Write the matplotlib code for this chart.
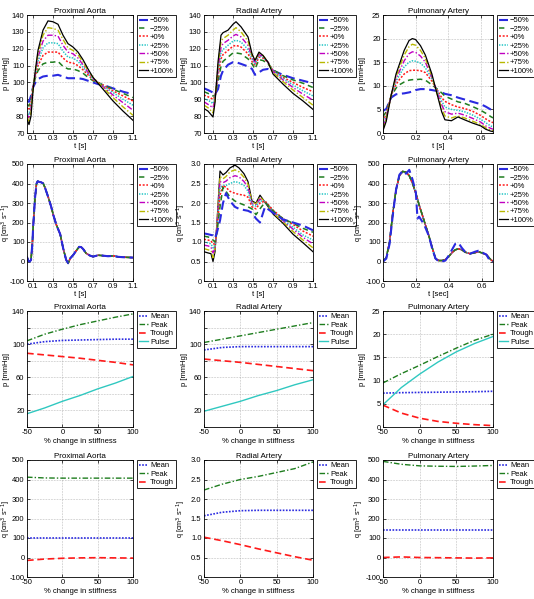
import matplotlib
matplotlib.use('Agg')
import matplotlib.pyplot as plt

plt.rcParams['font.family'] = ['Liberation Sans', 'DejaVu Sans']
plt.rcParams['axes.unicode_minus'] = False
FS = 5.5

# ---------------- data ----------------
series_labels = ['−50%', '−25%', '+0%', '+25%', '+50%', '+75%', '+100%']
stiff = [-50, -25, 0, 25, 50, 75, 100]

# Row 1: pressure waveforms
t_pa = [0.04, 0.06, 0.08, 0.1, 0.125, 0.15, 0.2, 0.25, 0.3, 0.35, 0.4, 0.45, 0.5, 0.55, 0.6, 0.65, 0.7, 0.75, 0.8, 0.9, 1.0, 1.1]
p_aorta = [
    [89, 88.5, 92, 97, 100, 102, 103.5, 104, 104, 104.5, 103.5, 102.5, 102.5, 102.5, 102, 101, 100, 99, 98.5, 96.5, 94.5, 93],
    [87, 86, 90, 97.5, 103, 107, 111, 112, 112, 112.5, 109.5, 108, 108, 107, 105.5, 103, 101, 100, 98.5, 96, 93.5, 91],
    [85, 83.5, 88, 97.5, 104, 110, 116, 118, 118, 118, 114.5, 112, 111.5, 110, 107.5, 104.5, 101.5, 100, 98.5, 95, 92, 89],
    [83, 81, 86, 97, 105, 112.5, 120.5, 123.5, 123.5, 123, 118.5, 115, 114.5, 112.5, 109, 105.5, 102, 100, 98, 94, 90, 86.5],
    [81, 79, 84, 96.5, 106, 115, 124.5, 128, 128, 127.5, 122, 118, 117, 114.5, 110.5, 106, 102.5, 100, 97.5, 92.5, 88, 83.5],
    [79.5, 77, 82, 96, 107, 117, 128, 132.5, 132, 131, 125.5, 120.5, 119, 116.5, 112, 107, 103, 100, 97, 91, 85.5, 80.5],
    [78, 75, 80, 95, 108, 119, 131, 136.5, 136, 134.5, 128, 123, 121, 118, 113.5, 108, 103, 99.5, 96, 89, 83, 77.5],
]

t_pr = [0.01, 0.05, 0.1, 0.12, 0.15, 0.18, 0.2, 0.25, 0.3, 0.33, 0.38, 0.45, 0.49, 0.52, 0.56, 0.6, 0.65, 0.7, 0.8, 0.9, 1.0, 1.1]
p_radial = [
    [96.5, 95.5, 94, 93, 96, 104, 107, 110.5, 112, 112, 111, 109.5, 108, 104.5, 106, 107.5, 108, 107, 104.5, 102.5, 101, 99.5],
    [94.5, 93.5, 92, 92, 101, 109.5, 112.5, 115, 117.5, 117.5, 117, 114, 111, 108, 113.5, 113, 111, 107.5, 104, 101.5, 99.5, 97],
    [92.5, 91.5, 90, 91.5, 104, 114, 116.5, 119, 121.5, 122, 121, 117, 112.5, 110, 115, 114.5, 112, 107, 103, 100, 97, 94.5],
    [90.5, 89.5, 87.5, 91, 106, 117.5, 119.5, 122, 124.5, 125, 124, 119.5, 114, 111, 116, 115, 112, 107, 102.5, 98.5, 95, 92],
    [88.5, 87, 85, 90, 108, 121, 123, 125, 127.5, 128.5, 127, 122, 115, 112, 116.5, 115.5, 112, 106.5, 101.5, 97, 93, 89.5],
    [86.5, 85, 82, 89, 110, 124.5, 126, 128, 131, 132.5, 130, 124.5, 116, 113, 117.5, 116, 112, 106, 100.5, 95.5, 91, 86.5],
    [84.5, 83, 79.5, 88, 112, 128, 129.5, 131, 134.5, 136, 133, 127, 117, 113, 118, 116, 112, 105, 99, 93.5, 89, 84],
]

t_pp = [0, 0.02, 0.05, 0.08, 0.1, 0.13, 0.16, 0.18, 0.2, 0.23, 0.26, 0.3, 0.33, 0.36, 0.38, 0.42, 0.46, 0.5, 0.55, 0.6, 0.63, 0.66, 0.675]
p_pulm = [
    [4.7, 5.1, 7.5, 8.2, 8.3, 8.4, 8.6, 8.8, 9.1, 9.3, 9.3, 9.1, 8.9, 8.6, 8.3, 8.0, 7.5, 7.1, 6.6, 6.1, 5.6, 5.0, 4.8],
    [3.5, 4.5, 7.8, 9.5, 10.2, 10.8, 11.2, 11.3, 11.3, 11.4, 11.2, 10.2, 9.4, 8.5, 7.8, 7.2, 6.6, 6.3, 5.6, 4.8, 4.2, 3.5, 3.2],
    [2.5, 4, 8, 10.3, 11.3, 12.5, 13.2, 13.3, 13.3, 13.2, 12.8, 11, 9.2, 7.5, 6.7, 6, 5.5, 5.2, 4.6, 3.7, 3, 2.4, 2.2],
    [1.8, 3.7, 8, 11, 12.2, 14, 15, 15.3, 15.2, 14.8, 13.8, 11.5, 9, 6.8, 5.5, 5, 4.8, 4.5, 3.8, 2.9, 2.2, 1.5, 1.3],
    [1.3, 3.3, 8, 11.5, 13, 15.3, 16.8, 17.2, 17.1, 16.3, 15, 11.8, 8.8, 6, 4.5, 4, 4.2, 3.8, 3.1, 2.3, 1.5, 1, 0.8],
    [0.9, 3, 8, 12, 13.8, 16.5, 18.3, 18.8, 18.6, 17.5, 15.8, 12, 8.5, 5.2, 3.6, 3.2, 3.6, 3.2, 2.5, 1.8, 1.1, 0.6, 0.5],
    [0.5, 2.5, 8, 12.5, 14.5, 17.5, 19.6, 20, 19.8, 18.5, 16.5, 12.5, 8.5, 4.5, 2.8, 2.6, 3.4, 2.8, 2.1, 1.5, 0.8, 0.4, 0.3],
]

# Row 2: flow waveforms
t_qa = [0.037, 0.05, 0.065, 0.077, 0.09, 0.1, 0.117, 0.133, 0.145, 0.16, 0.18, 0.2, 0.22, 0.25, 0.28, 0.3, 0.33, 0.35, 0.37, 0.4, 0.43, 0.45, 0.47, 0.5, 0.53, 0.56, 0.58, 0.6, 0.63, 0.67, 0.7, 0.75, 0.8, 0.85, 0.9, 0.95, 1.0, 1.05, 1.1]
q_aorta = [23, 3, 0, 8, 85, 187, 324, 400, 412, 408, 406, 400, 375, 330, 280, 240, 190, 165, 140, 67, 8, -9, 16, 33, 55, 75, 74, 64, 42, 30, 25, 32, 30, 27, 29, 24, 22, 21, 20]

t_qr = [0.01, 0.05, 0.08, 0.1, 0.12, 0.14, 0.17, 0.2, 0.23, 0.27, 0.32, 0.36, 0.41, 0.45, 0.49, 0.53, 0.57, 0.62, 0.7, 0.8, 0.9, 1.0, 1.1]
q_radial = [
    [1.22, 1.2, 1.18, 1.17, 1.1, 1.25, 1.55, 2.0, 2.25, 2.05, 1.9, 1.85, 1.82, 1.8, 1.75, 1.6, 1.5, 1.9, 1.75, 1.58, 1.5, 1.42, 1.3],
    [1.15, 1.13, 1.1, 1.05, 1.0, 1.25, 1.9, 2.4, 2.3, 2.15, 2.05, 2.0, 1.95, 1.9, 1.85, 1.7, 1.85, 2.02, 1.8, 1.6, 1.48, 1.35, 1.25],
    [1.07, 1.05, 1.03, 0.95, 0.95, 1.3, 2.2, 2.45, 2.4, 2.3, 2.25, 2.22, 2.2, 2.15, 1.9, 1.85, 2.0, 2.05, 1.82, 1.6, 1.45, 1.28, 1.15],
    [1.0, 0.98, 0.95, 0.85, 0.9, 1.35, 2.4, 2.45, 2.45, 2.5, 2.55, 2.52, 2.45, 2.3, 1.95, 1.92, 2.05, 2.05, 1.8, 1.57, 1.38, 1.18, 1.05],
    [0.92, 0.9, 0.87, 0.72, 0.85, 1.45, 2.55, 2.52, 2.56, 2.65, 2.7, 2.67, 2.55, 2.4, 1.98, 1.96, 2.1, 2.04, 1.78, 1.55, 1.33, 1.12, 0.95],
    [0.83, 0.8, 0.78, 0.6, 0.8, 1.5, 2.68, 2.62, 2.68, 2.8, 2.85, 2.8, 2.66, 2.48, 2.02, 1.98, 2.15, 2.03, 1.75, 1.52, 1.27, 1.05, 0.85],
    [0.75, 0.72, 0.7, 0.5, 0.75, 1.5, 2.82, 2.72, 2.78, 2.9, 2.97, 2.9, 2.75, 2.55, 2.05, 2.0, 2.2, 2.02, 1.72, 1.48, 1.2, 0.98, 0.75],
]

t_qp = [0, 0.02, 0.04, 0.06, 0.08, 0.1, 0.12, 0.14, 0.16, 0.18, 0.2, 0.21, 0.22, 0.25, 0.28, 0.3, 0.32, 0.34, 0.36, 0.38, 0.4, 0.42, 0.44, 0.46, 0.48, 0.5, 0.53, 0.56, 0.58, 0.6, 0.63, 0.65, 0.67]
q_pulm_m50 = [0, 15, 90, 240, 370, 445, 465, 450, 470, 420, 355, 220, 230, 190, 130, 65, 15, 0, 0, 5, 30, 60, 90, 95, 70, 50, 40, 50, 55, 48, 35, 5, 0]
q_pulm = [0, 20, 100, 250, 370, 440, 462, 458, 440, 400, 350, 320, 290, 210, 130, 70, 15, 5, 5, 10, 25, 45, 60, 65, 60, 48, 40, 45, 50, 45, 35, 15, 0]

# Row 3: pressure summary vs stiffness
pa_mean = [100, 103, 104.5, 105, 105.5, 106, 106]
pa_peak = [104, 112, 118, 123.5, 128, 132.5, 136.5]
pa_trough = [89, 87, 85, 83, 80.5, 78, 75]
pa_pulse = [16, 23, 31, 38, 46, 53, 61]

pr_mean = [93, 96, 97, 97, 97, 97, 97]
pr_peak = [102, 106, 110, 114, 118, 122, 126]
pr_trough = [82, 80, 78, 75.5, 73, 70.5, 68]
pr_pulse = [19, 25, 31, 38, 44, 51, 57]

pp_mean = [7.3, 7.4, 7.45, 7.5, 7.55, 7.6, 7.7]
pp_peak = [9.5, 11.5, 13.3, 15.2, 17.0, 18.7, 20.0]
pp_trough = [4.7, 3.0, 1.9, 1.2, 0.8, 0.5, 0.3]
pp_pulse = [4.8, 8.5, 11.4, 14.0, 16.2, 18.0, 19.5]

# Row 4: flow summary vs stiffness
qa_mean = [100, 100, 100, 100, 100, 100, 100]
qa_peak = [412, 408, 407, 407, 407, 407, 407]
qa_trough = [-15, -8, -4, -2, -1, -2, -3]

qr_mean = [1.57, 1.66, 1.70, 1.71, 1.71, 1.71, 1.71]
qr_peak = [2.23, 2.38, 2.50, 2.58, 2.68, 2.78, 2.95]
qr_trough = [1.02, 0.93, 0.83, 0.72, 0.62, 0.52, 0.43]

qp_mean = [143, 143, 143, 143, 143, 143, 143]
qp_peak = [493, 478, 470, 468, 467, 469, 472]
qp_trough = [0, 3, 0, -1, -2, -3, -2]

# ---------------- styles ----------------
wave_colors = ['#2a2ae0', '#1e7d1e', '#ff1a1a', '#20c4c4', '#c000c0', '#b8b800', '#000000']
wave_ls = [(0, (4.5, 2.2)), (0, (3.5, 2.5)), (0, (1.3, 1.1)), (0, (0.9, 0.9)),
           (0, (4, 1.5, 1, 1.5)), (0, (4, 1.5, 1, 1.5)), '-']
wave_lw = [1.5, 1.1, 1.1, 1.1, 1.0, 1.0, 0.9]

W, H = 534, 599
fig = plt.figure(figsize=(W / 100, H / 100), dpi=100)

cols = [(27, 133), (204, 313), (383, 493)]
ylabel_right = [10, 187.5, 365.5]   # figure pixel x of the y-labels' baseline side
rows = [(15, 133), (164, 281), (311, 427), (460, 577)]

LEG_KW = dict(loc='upper left', borderaxespad=0, fontsize=FS, handlelength=1.25,
              handletextpad=0.2, borderpad=0.25, fancybox=False, framealpha=1,
              edgecolor='black')


def make_ax(r, c):
    l, rr = cols[c]
    t, b = rows[r]
    ax = fig.add_axes([l / W, 1 - b / H, (rr - l) / W, (b - t) / H])
    ax.tick_params(direction='in', length=2.5, width=0.5, labelsize=FS, pad=1.8,
                   top=True, right=True)
    for s in ax.spines.values():
        s.set_linewidth(0.6)
    ax.grid(True, color='#9a9a9a', ls=(0, (1, 1.5)), lw=0.45)
    return ax


def set_ylab(ax, c, text, shift=0.0, size=FS):
    ax.set_ylabel(text, fontsize=size)
    l, rr = cols[c]
    ax.yaxis.set_label_coords((ylabel_right[c] + shift - l) / (rr - l), 0.5)


def legend(ax, handles=None, labels=None, labelspacing=0.14):
    width = ax.get_position().width * W
    kw = dict(LEG_KW, bbox_to_anchor=(1 + 4.0 / width, 1.0), labelspacing=labelspacing)
    if handles is None:
        lg = ax.legend(**kw)
    else:
        lg = ax.legend(handles, labels, **kw)
    lg.get_frame().set_linewidth(0.6)


def title(ax, s):
    ax.set_title(s, fontsize=FS + 0.3, pad=1.5)


qlab = 'q [cm$^{3}$ s$^{-1}$]'
QFS = 5.2
names = ['Proximal Aorta', 'Radial Artery', 'Pulmonary Artery']

# Row 1
for c, (tt, data) in enumerate([(t_pa, p_aorta), (t_pr, p_radial), (t_pp, p_pulm)]):
    ax = make_ax(0, c)
    for i in range(7):
        ax.plot(tt, data[i], color=wave_colors[i], ls=wave_ls[i], lw=wave_lw[i],
                label=series_labels[i])
    title(ax, names[c])
    set_ylab(ax, c, 'p [mmHg]')
    ax.set_xlabel('t [s]', fontsize=FS, labelpad=0)
    if c < 2:
        ax.set_xlim(tt[0], 1.1)
        ax.set_ylim(70, 140)
        ax.set_xticks([0.1, 0.3, 0.5, 0.7, 0.9, 1.1])
        ax.set_yticks(range(70, 141, 10))
    else:
        ax.set_xlim(0, 0.675)
        ax.set_ylim(0, 25)
        ax.set_xticks([0, 0.2, 0.4, 0.6])
        ax.set_xticklabels(['0', '0.2', '0.4', '0.6'])
        ax.set_yticks(range(0, 26, 5))
    legend(ax)

# Row 2
ax = make_ax(1, 0)
for i in reversed(range(7)):
    ax.plot(t_qa, q_aorta, color=wave_colors[i], ls=wave_ls[i], lw=wave_lw[i],
            label=series_labels[i])
ax.set_xlim(t_qa[0], 1.1)
ax.set_ylim(-100, 500)
ax.set_xticks([0.1, 0.3, 0.5, 0.7, 0.9, 1.1])
ax.set_yticks(range(-100, 501, 100))
title(ax, names[0])
set_ylab(ax, 0, qlab, shift=3.0, size=QFS)
ax.set_xlabel('t [s]', fontsize=FS, labelpad=0)
h, l = ax.get_legend_handles_labels()
legend(ax, h[::-1], l[::-1])

ax = make_ax(1, 1)
for i in reversed(range(7)):
    ax.plot(t_qr, q_radial[i], color=wave_colors[i], ls=wave_ls[i], lw=wave_lw[i],
            label=series_labels[i])
ax.set_xlim(t_qr[0], 1.1)
ax.set_ylim(0, 3.0)
ax.set_xticks([0.1, 0.3, 0.5, 0.7, 0.9, 1.1])
ax.set_yticks([0, 0.5, 1.0, 1.5, 2.0, 2.5, 3.0])
ax.set_yticklabels(['0', '0.5', '1.0', '1.5', '2.0', '2.5', '3.0'])
title(ax, names[1])
set_ylab(ax, 1, qlab, size=QFS)
ax.set_xlabel('t [s]', fontsize=FS, labelpad=0)
h, l = ax.get_legend_handles_labels()
legend(ax, h[::-1], l[::-1])

ax = make_ax(1, 2)
for i in reversed(range(7)):
    yy = q_pulm_m50 if i == 0 else q_pulm
    ax.plot(t_qp, yy, color=wave_colors[i], ls=wave_ls[i], lw=wave_lw[i],
            label=series_labels[i])
ax.set_xlim(0, 0.67)
ax.set_ylim(-100, 500)
ax.set_xticks([0, 0.2, 0.4, 0.6])
ax.set_xticklabels(['0', '0.2', '0.4', '0.6'])
ax.set_yticks(range(-100, 501, 100))
title(ax, names[2])
set_ylab(ax, 2, qlab, shift=1.0, size=QFS)
ax.set_xlabel('t [sec]', fontsize=FS, labelpad=0)
h, l = ax.get_legend_handles_labels()
legend(ax, h[::-1], l[::-1])

# Rows 3 & 4
sum_colors = {'Mean': '#2a2ae0', 'Peak': '#1e7d1e', 'Trough': '#ff1a1a', 'Pulse': '#30c8c0'}
sum_ls = {'Mean': (0, (1, 0.9)), 'Peak': (0, (4, 1.5, 1, 1.5)),
          'Trough': (0, (4, 2.2)), 'Pulse': '-'}
sum_lw = {'Mean': 1.2, 'Peak': 1.0, 'Trough': 1.2, 'Pulse': 1.0}

row3 = [
    {'Mean': pa_mean, 'Peak': pa_peak, 'Trough': pa_trough, 'Pulse': pa_pulse},
    {'Mean': pr_mean, 'Peak': pr_peak, 'Trough': pr_trough, 'Pulse': pr_pulse},
    {'Mean': pp_mean, 'Peak': pp_peak, 'Trough': pp_trough, 'Pulse': pp_pulse},
]
row4 = [
    {'Mean': qa_mean, 'Peak': qa_peak, 'Trough': qa_trough},
    {'Mean': qr_mean, 'Peak': qr_peak, 'Trough': qr_trough},
    {'Mean': qp_mean, 'Peak': qp_peak, 'Trough': qp_trough},
]

for r, rowdata in ((2, row3), (3, row4)):
    for c in range(3):
        ax = make_ax(r, c)
        for k, v in rowdata[c].items():
            ax.plot(stiff, v, color=sum_colors[k], ls=sum_ls[k], lw=sum_lw[k], label=k)
        ax.set_xlim(-50, 100)
        ax.set_xticks([-50, 0, 50, 100])
        title(ax, names[c])
        ax.set_xlabel('% change in stiffness', fontsize=FS, labelpad=1)
        if r == 2:
            set_ylab(ax, c, 'p [mmHg]')
            if c < 2:
                ax.set_ylim(0, 140)
                ax.set_yticks(range(0, 141, 20))
                ax.set_yticklabels(['', '20', '', '60', '', '100', '', '140'])
            else:
                ax.set_ylim(0, 25)
                ax.set_yticks(range(0, 26, 5))
        else:
            set_ylab(ax, c, qlab, shift=(3.0 if c == 0 else 0.5), size=QFS)
            if c == 1:
                ax.set_ylim(0, 3.0)
                ax.set_yticks([0, 0.5, 1.0, 1.5, 2.0, 2.5, 3.0])
                ax.set_yticklabels(['0', '0.5', '1.0', '1.5', '2.0', '2.5', '3.0'])
            else:
                ax.set_ylim(-100, 500)
                ax.set_yticks(range(-100, 501, 100))
        legend(ax, labelspacing=0.16)

fig.savefig('out.png', dpi=100)
